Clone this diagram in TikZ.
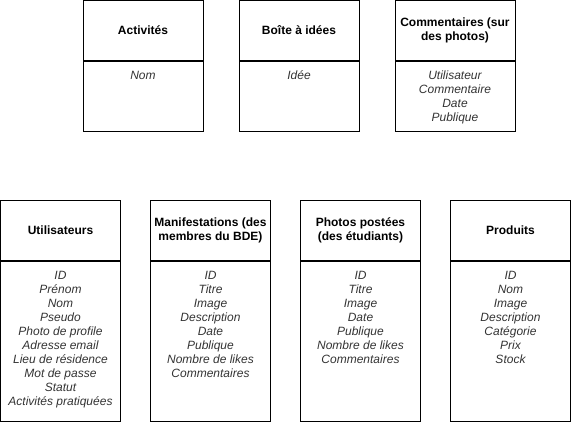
\documentclass[tikz,border=0pt]{standalone}
\usepackage{fontspec}
\setmainfont{Liberation Sans}
\begin{document}
\begin{tikzpicture}[x=1pt,y=-1pt,
  hdr/.style={draw=black,line width=1pt,minimum width=120pt,inner sep=2pt,align=center,
    font=\fontsize{12}{14}\selectfont\bfseries,text=black},
  bodybox/.style={draw=black,line width=1pt,minimum width=120pt,anchor=north,inner sep=0pt},
  attr/.style={anchor=north,inner sep=0pt,align=center,
    font=\fontsize{12}{14}\selectfont\itshape,text=gray333}]
\definecolor{gray333}{HTML}{333333}
\useasboundingbox (0,0) rectangle (571,421);
% top row
\node[hdr,minimum height=60pt] (act) at (143,30.5) {Activités};
\node[bodybox,minimum height=70pt] (actb) at (act.south) {};
\node[attr] (acta) at ([yshift=-8.8pt]actb.north) {\strut Nom};

\node[hdr,minimum height=60pt] (boi) at (299,30.5) {Boîte à idées};
\node[bodybox,minimum height=70pt] (boib) at (boi.south) {};
\node[attr] (boia) at ([yshift=-8.8pt]boib.north) {\strut Idée};

\node[hdr,minimum height=60pt] (com) at (455,30.5) {Commentaires (sur\\des photos)};
\node[bodybox,minimum height=70pt] (comb) at (com.south) {};
\node[attr] (coma) at ([yshift=-8.8pt]comb.north) {\strut Utilisateur\\Commentaire\\Date\\Publique};

% bottom row
\node[hdr,minimum height=60pt] (uti) at (60.5,230.5) {Utilisateurs};
\node[bodybox,minimum height=160pt] (utib) at (uti.south) {};
\node[attr] (utia) at ([yshift=-8.8pt]utib.north) {\strut ID\\Prénom\\Nom\\Pseudo\\Photo de profile\\Adresse email\\Lieu de résidence\\Mot de passe\\Statut\\Activités pratiquées};

\node[hdr,minimum height=60pt] (man) at (210.5,230.5) {Manifestations (des\\membres du BDE)};
\node[bodybox,minimum height=160pt] (manb) at (man.south) {};
\node[attr] (mana) at ([yshift=-8.8pt]manb.north) {\strut ID\\Titre\\Image\\Description\\Date\\Publique\\Nombre de likes\\Commentaires};

\node[hdr,minimum height=60pt] (pho) at (360.5,230.5) {Photos postées\\(des étudiants)};
\node[bodybox,minimum height=160pt] (phob) at (pho.south) {};
\node[attr] (phoa) at ([yshift=-8.8pt]phob.north) {\strut ID\\Titre\\Image\\Date\\Publique\\Nombre de likes\\Commentaires};

\node[hdr,minimum height=60pt] (pro) at (510.5,230.5) {Produits};
\node[bodybox,minimum height=160pt] (prob) at (pro.south) {};
\node[attr] (proa) at ([yshift=-8.8pt]prob.north) {\strut ID\\Nom\\Image\\Description\\Catégorie\\Prix\\Stock};
\end{tikzpicture}
\end{document}
